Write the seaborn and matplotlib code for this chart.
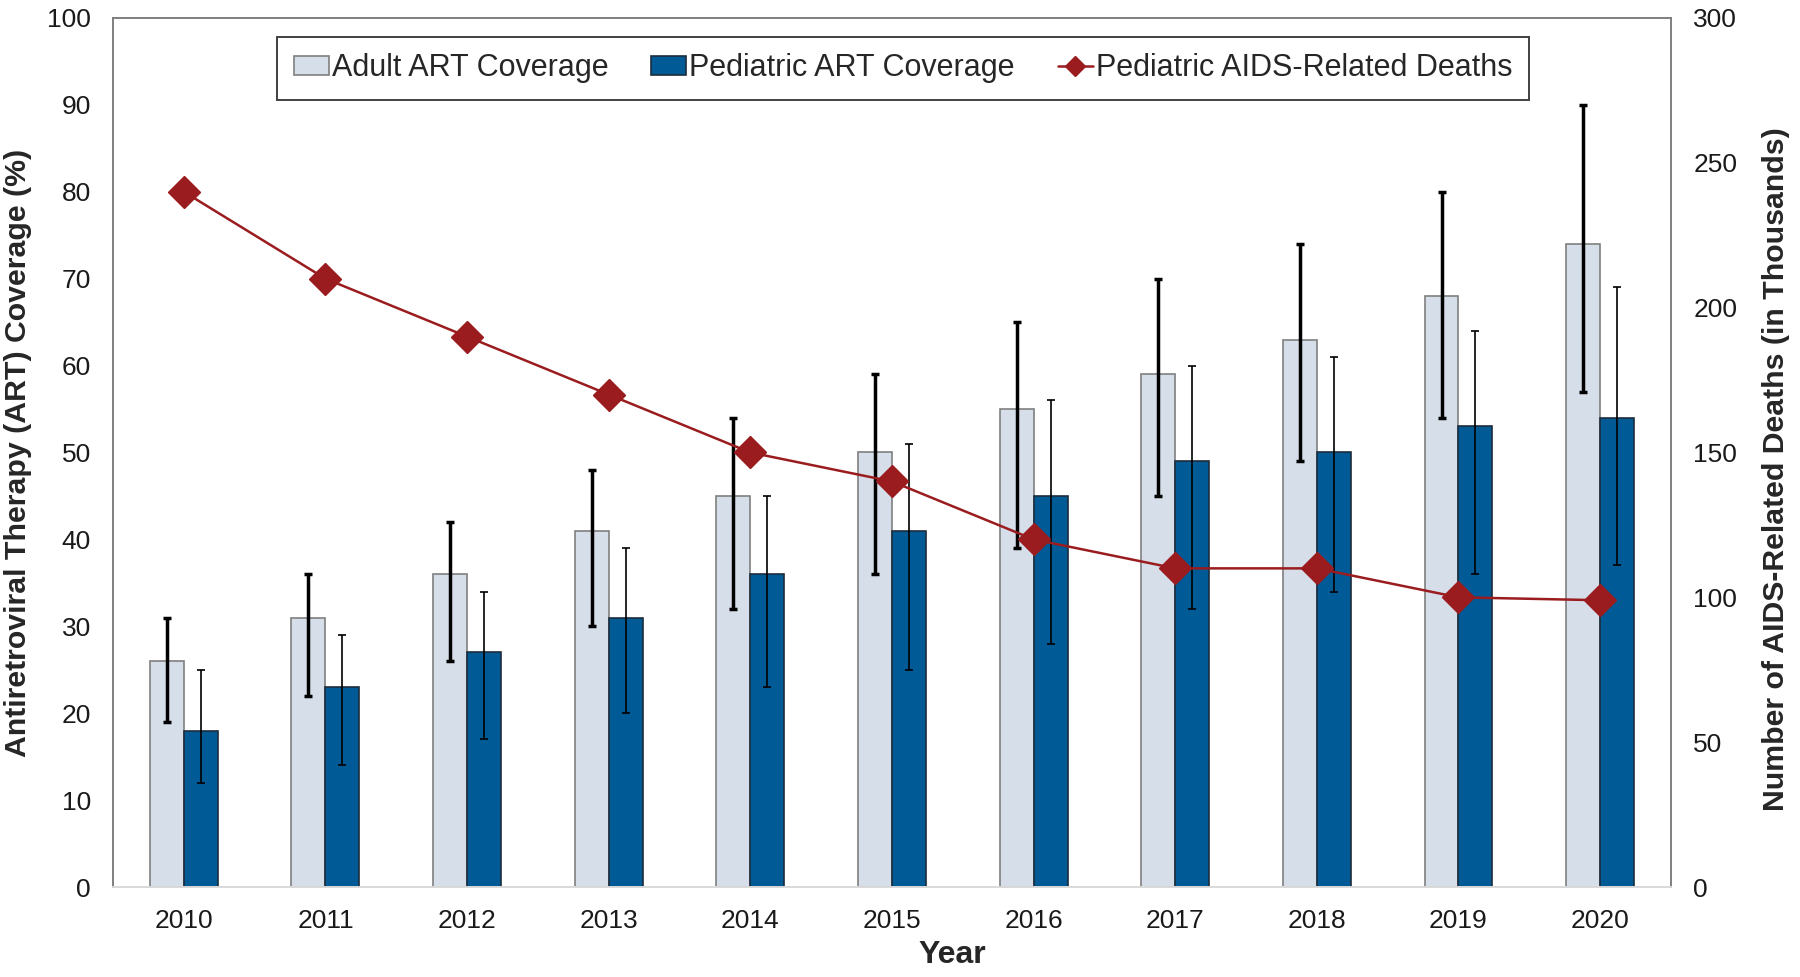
import matplotlib
matplotlib.use("Agg")
import matplotlib.pyplot as plt
import numpy as np
import pandas as pd
import seaborn as sb
from matplotlib.lines import Line2D
from matplotlib.patches import Patch

# dados
anos = ["2010", "2011", "2012", "2013", "2014", "2015", "2016", "2017", "2018", "2019", "2020"]
cobertura_adulto = [26, 31, 36, 41, 45, 50, 55, 59, 63, 68, 74]
adulto_inf = [19, 22, 26, 30, 32, 36, 39, 45, 49, 54, 57]
adulto_sup = [31, 36, 42, 48, 54, 59, 65, 70, 74, 80, 90]
cobertura_pediatrica = [18, 23, 27, 31, 36, 41, 45, 49, 50, 53, 54]
pediatrica_inf = [12, 14, 17, 20, 23, 25, 28, 32, 34, 36, 37]
pediatrica_sup = [25, 29, 34, 39, 45, 51, 56, 60, 61, 64, 69]
obitos_pediatricos = [240, 210, 190, 170, 150, 140, 120, 110, 110, 100, 99]

grupos = ["Adult ART Coverage", "Pediatric ART Coverage"]
rotulo_obitos = "Pediatric AIDS-Related Deaths"

cor_adulto = "#D6DFE9"
borda_adulto = "#7F7F7F"
cor_pediatrica = "#005A96"
borda_pediatrica = "#1E2D3C"
cor_obitos = "#9B1C1F"

sb.set_style("white")
plt.rcParams['font.family'] = ['Liberation Sans', 'DejaVu Sans']

df = pd.DataFrame({
    'Ano': anos * 2,
    'Grupo': [grupos[0]] * len(anos) + [grupos[1]] * len(anos),
    'Cobertura': cobertura_adulto + cobertura_pediatrica,
})

fig = plt.figure(figsize=(18, 9.77), dpi=100)
ax = fig.add_subplot(111)
fig.subplots_adjust(left=0.0628, right=0.9283, bottom=0.0921, top=0.9816)

sb.barplot(data=df, x='Ano', y='Cobertura', hue='Grupo', hue_order=grupos,
           palette=[cor_adulto, cor_pediatrica], width=0.48, gap=0, errorbar=None,
           legend=False, saturation=1, ax=ax)

# bordas e barras de erro de cada grupo
estilos = [
    (borda_adulto, cobertura_adulto, adulto_inf, adulto_sup, 2.5),
    (borda_pediatrica, cobertura_pediatrica, pediatrica_inf, pediatrica_sup, 1.2),
]
for container, (borda, valores, inf, sup, lw) in zip(ax.containers, estilos):
    xs = []
    for barra in container:
        barra.set_edgecolor(borda)
        barra.set_linewidth(1.2)
        xs.append(barra.get_x() + barra.get_width() / 2)
    valores = np.array(valores)
    yerr = [valores - np.array(inf), np.array(sup) - valores]
    ax.errorbar(xs, valores, yerr=yerr, fmt='none', ecolor='black',
                elinewidth=lw, capsize=3.2, capthick=lw, zorder=3)

ax.set_xlim(-0.5, 10.5)
ax.set_ylim(0, 100)
ax.set_yticks(range(0, 101, 10))
ax.set_xlabel("Year", fontsize=23, fontweight='bold', labelpad=5)
ax.xaxis.label.set_x(0.5385)
ax.set_ylabel("Antiretroviral Therapy (ART) Coverage (%)", fontsize=21.8, fontweight='bold', labelpad=11)
ax.tick_params(axis='both', length=0, pad=16, labelsize=19, labelcolor='#1A1A1A')

for lado in ['left', 'top', 'right']:
    ax.spines[lado].set_color('#7F7F7F')
    ax.spines[lado].set_linewidth(1.4)
ax.spines['bottom'].set_color('#D9D9D9')
ax.spines['bottom'].set_linewidth(1.4)

# eixo secundário com óbitos
ax2 = ax.twinx()
sb.lineplot(x=np.arange(len(anos)), y=obitos_pediatricos, ax=ax2, color=cor_obitos,
            linewidth=1.8, marker='D', markersize=16, markeredgecolor=cor_obitos,
            markeredgewidth=1)
ax2.set_ylim(0, 300)
ax2.set_yticks(range(0, 301, 50))
ax2.set_ylabel("Number of AIDS-Related Deaths (in Thousands)", fontsize=21.8,
               fontweight='bold', labelpad=18)
ax2.yaxis.label.set_y(0.481)
ax2.tick_params(axis='y', length=0, pad=16, labelsize=19, labelcolor='#1A1A1A')
for lado in ax2.spines:
    ax2.spines[lado].set_visible(False)

handles = [
    Patch(facecolor=cor_adulto, edgecolor=borda_adulto, linewidth=1.2),
    Patch(facecolor=cor_pediatrica, edgecolor=borda_pediatrica, linewidth=1.2),
    Line2D([], [], color=cor_obitos, linewidth=1.8, marker='D', markersize=10),
]
leg = ax2.legend(handles, grupos + [rotulo_obitos], ncol=3, loc='center', mode='expand',
                 bbox_to_anchor=(0.1539, 0.8966, 0.6956, 0.0666), bbox_transform=fig.transFigure,
                 borderaxespad=0, fontsize=22, frameon=True, fancybox=False, framealpha=1,
                 edgecolor='#404040', borderpad=0.55, handlelength=1.15,
                 handleheight=0.55, handletextpad=0.1, columnspacing=1.0)
leg.get_frame().set_linewidth(1.4)

plt.savefig("out.png", dpi=100)
plt.close('all')
